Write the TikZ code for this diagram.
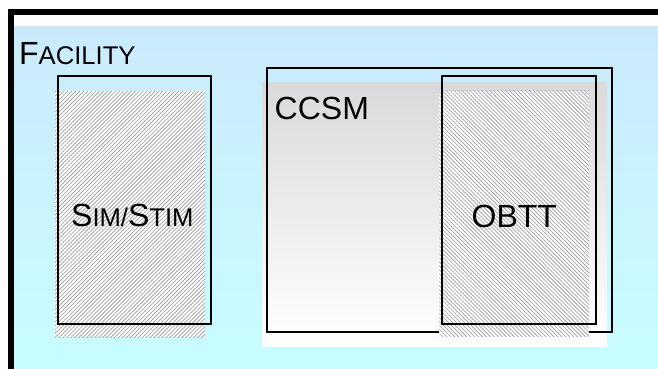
\documentclass[tikz,border=0pt]{standalone}
\usepackage{fontspec}
\setmainfont{Liberation Sans}
\usetikzlibrary{patterns.meta}
\definecolor{bluetop}{RGB}{202,234,251}
\definecolor{bluebot}{RGB}{200,254,255}
\definecolor{ccsmtop}{RGB}{218,218,218}
\definecolor{hatchgray}{RGB}{165,165,165}
\newcommand\smc[1]{{\fontsize{25.6}{26}\selectfont #1}}
\tikzset{
  outline/.style={draw=black,line width=1.8pt},
  hatchne/.style={fill=white,postaction={pattern={Lines[angle=45,distance=2.8pt,line width=0.8pt]},pattern color=hatchgray}},
  hatchnw/.style={fill=white,postaction={pattern={Lines[angle=-45,distance=2.8pt,line width=0.8pt]},pattern color=hatchgray}},
  lbl/.style={anchor=base west,inner sep=0pt,font=\fontsize{32}{33}\selectfont},
}
\begin{document}
\begin{tikzpicture}[x=1pt,y=-1pt]
\useasboundingbox (0,0) rectangle (658,369);
% background
\shade[top color=bluetop,bottom color=bluebot] (14,27) rectangle (658,369);
\draw[line width=6pt,line join=miter] (11,369) -- (11,12) -- (658,12);
% Sim/Stim
\path[hatchne] (55,91) rectangle (205,337);
\draw[outline] (58.3,75.7) rectangle (211,324);
% CCSM
\shade[top color=ccsmtop,bottom color=white] (262.7,82.7) rectangle (607,346.7);
\draw[outline] (266.7,67.7) rectangle (611.7,331.7);
% OBTT
\path[hatchnw] (439.3,90.7) rectangle (589,336.7);
\draw[outline] (442.3,75.7) rectangle (595.7,324.3);
% labels
\node[lbl] (facility) at (19,64.3) {F\smc{ACILITY}};
\node[lbl] (simstim) at (71,226.7) {S\smc{IM/}S\smc{TIM}};
\node[lbl] (ccsm) at (274.5,119) {CCSM};
\node[lbl] (obtt) at (471.5,227.7) {OBTT};
\end{tikzpicture}
\end{document}
